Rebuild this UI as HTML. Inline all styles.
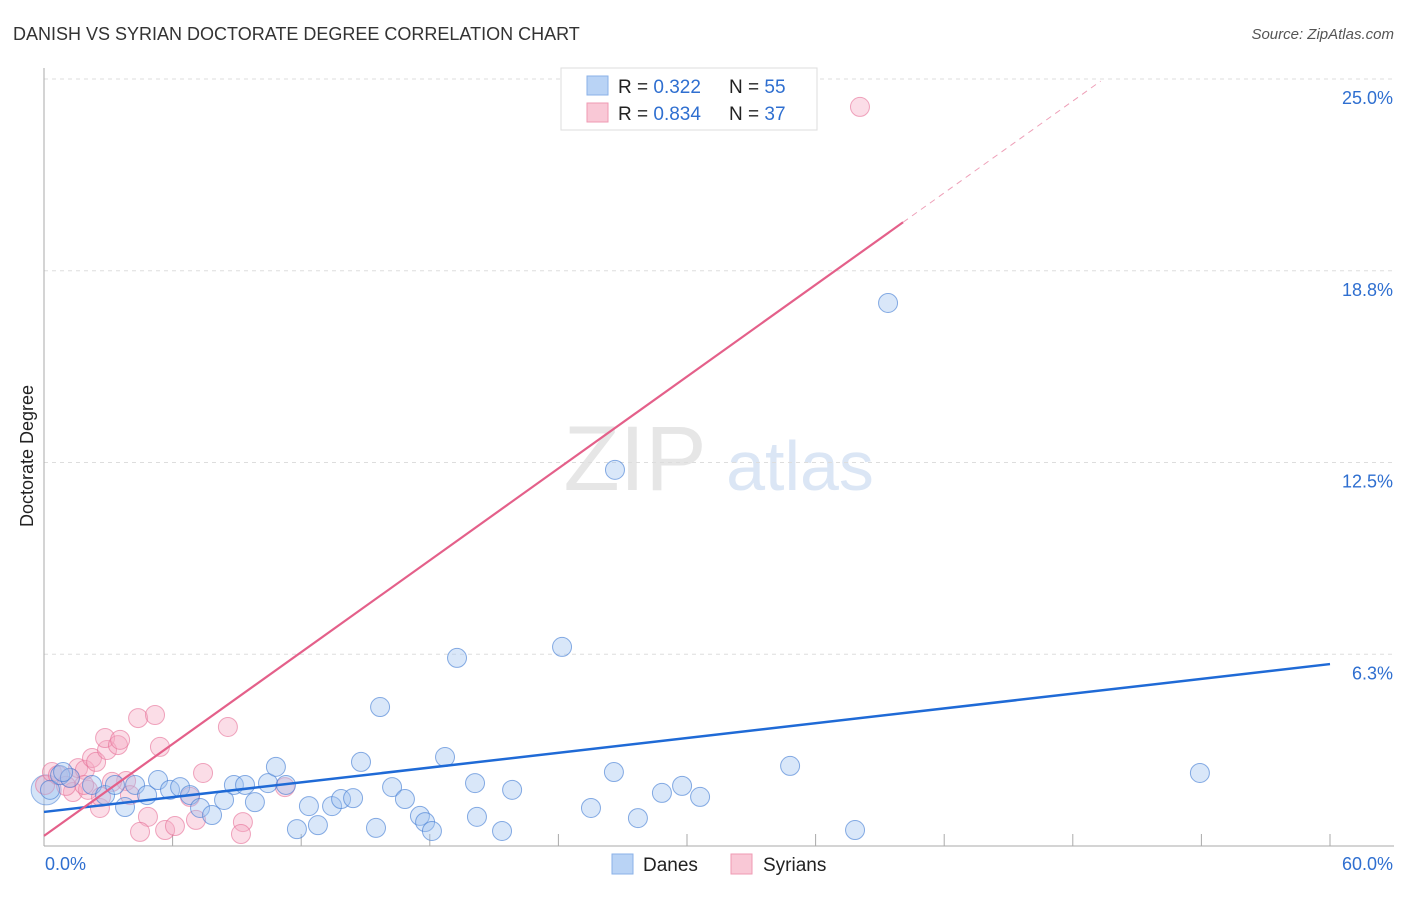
<!DOCTYPE html>
<html><head><meta charset="utf-8"><style>
body{margin:0;background:#fff;font-family:"Liberation Sans",sans-serif}
svg text{font-family:"Liberation Sans",sans-serif}
</style></head><body>
<svg id="chart" width="1406" height="892" viewBox="0 0 1406 892" xmlns="http://www.w3.org/2000/svg">
<text x="13" y="40" font-size="18" fill="#333">DANISH VS SYRIAN DOCTORATE DEGREE CORRELATION CHART</text>
<text x="1394" y="39" font-size="15" fill="#555" text-anchor="end" font-style="italic">Source: ZipAtlas.com</text>
<g>
<text x="635" y="490" font-size="92" fill="#e6e6e6" font-family="Liberation Serif" text-anchor="middle">ZIP</text>
<text x="800" y="490" font-size="70" fill="#dbe6f5" text-anchor="middle">atlas</text>
</g>
<g id="grid"></g>
<g id="axes"></g>
<g id="marks"></g>
<text transform="translate(33,456) rotate(-90)" font-size="18" fill="#222" text-anchor="middle">Doctorate Degree</text>
<g>
<rect x="561" y="68" width="256" height="62" fill="#fff" stroke="#ddd"/>
<rect x="587" y="76" width="21" height="19" fill="#b9d3f5" stroke="#8ab2e8"/>
<rect x="587" y="103" width="21" height="19" fill="#f9c8d6" stroke="#ef9ab3"/>
<text x="618" y="93" font-size="19" fill="#222">R = <tspan fill="#2f6fd0">0.322</tspan><tspan x="729">N = </tspan><tspan fill="#2f6fd0">55</tspan></text>
<text x="618" y="120" font-size="19" fill="#222">R = <tspan fill="#2f6fd0">0.834</tspan><tspan x="729">N = </tspan><tspan fill="#2f6fd0">37</tspan></text>
</g>
<g>
<rect x="612" y="854" width="21" height="20" fill="#b9d3f5" stroke="#8ab2e8"/>
<text x="643" y="871" font-size="19" fill="#222">Danes</text>
<rect x="731" y="854" width="21" height="20" fill="#f9c8d6" stroke="#ef9ab3"/>
<text x="763" y="871" font-size="19" fill="#222">Syrians</text>
</g>
</svg>
<script>
const yTicks=[0,6.25,12.5,18.75,25];
const yTickLabels=["","6.3%","12.5%","18.8%","25.0%"];
const xTickLabels=["0.0%","60.0%"];
const danesX=[0.28,0.75,1.21,2.24,2.85,3.31,3.78,4.25,4.81,5.32,5.88,6.35,6.81,7.28,7.84,8.40,8.86,9.38,9.84,10.45,10.82,11.29,11.80,12.36,12.78,13.44,13.86,14.42,14.79,15.49,15.68,16.24,16.84,17.54,17.78,18.10,18.71,19.27,20.11,20.20,21.37,21.84,24.17,25.52,26.59,26.64,27.71,28.83,29.77,30.61,34.81,37.84,39.38,53.93,0.89];
const danesY=[1.83,2.31,2.22,1.99,1.66,1.99,1.27,1.99,1.66,2.15,1.83,1.92,1.66,1.24,1.01,1.50,1.99,1.99,1.43,2.05,2.58,1.99,0.55,1.30,0.68,1.30,1.53,1.56,2.74,0.59,4.53,1.92,1.53,0.98,0.78,0.49,2.90,6.13,2.05,0.95,0.49,1.83,6.49,1.24,2.41,12.26,0.91,1.73,1.96,1.60,2.61,0.52,17.70,2.38,2.41];
const syrX=[0.05,0.37,0.65,1.21,1.59,1.91,2.24,2.43,2.94,2.85,3.45,3.55,4.39,5.18,5.41,3.83,4.01,2.61,1.35,2.05,4.85,4.48,5.65,6.11,7.09,7.42,8.58,9.28,9.19,11.24,38.07,1.87,1.03,3.17,2.66,6.81];
const syrY=[1.99,2.41,2.31,2.22,2.54,2.48,2.87,2.74,3.13,3.52,3.29,3.46,4.17,4.27,3.23,2.12,1.66,1.24,1.76,1.83,0.95,0.46,0.52,0.65,0.85,2.38,3.88,0.78,0.39,1.92,24.09,1.99,1.96,2.09,1.60,1.60];
const blueTrend=[1.11,5.93]; // y at x=0 and x=60
const pinkTrend=[0.33,0.499]; // intercept, slope
const NS="http://www.w3.org/2000/svg";
const X0=44,X1=1330,Y0=846,Y1=79;
const sx=v=>X0+(v/60)*(X1-X0);
const sy=v=>Y0-(v/25)*(Y0-Y1);
function mk(parent,tag,attrs){const e=document.createElementNS(NS,tag);for(const k in attrs)e.setAttribute(k,attrs[k]);document.getElementById(parent).appendChild(e);return e;}
yTicks.forEach((t,i)=>{
 if(i>0){const l=mk('grid','line',{x1:X0,x2:1394,y1:sy(t),y2:sy(t),stroke:'#ddd','stroke-dasharray':'4,4'});
 
 
 const tx=mk('axes','text',{x:1393,y:sy(t)+25,'font-size':18,fill:'#2f6fd0','text-anchor':'end'});tx.textContent=yTickLabels[i];
 
 }
});
const ax=mk('axes','line',{x1:X0,x2:X0,y1:68,y2:Y0,stroke:'#aaa'});


const bx=mk('axes','line',{x1:X0,x2:1394,y1:Y0,y2:Y0,stroke:'#aaa'});


for(let i=0;i<=10;i++){const t=mk('axes','line',{x1:sx(i*6),x2:sx(i*6),y1:Y0-12,y2:Y0,stroke:'#aaa'});
 
 }
const xl0=mk('axes','text',{x:45,y:870,'font-size':18,fill:'#2f6fd0'});xl0.textContent=xTickLabels[0];


const xl1=mk('axes','text',{x:1393,y:870,'font-size':18,fill:'#2f6fd0','text-anchor':'end'});xl1.textContent=xTickLabels[1];


const big=mk('marks','circle',{cx:sx(0.1),cy:sy(1.83),r:15,fill:'rgba(160,195,240,0.45)',stroke:'rgba(60,120,210,0.5)'});


syrX.forEach((x,i)=>{const c=mk('marks','circle',{cx:sx(x),cy:sy(syrY[i]),r:9.5,fill:'rgba(245,170,195,0.4)',stroke:'rgba(230,110,150,0.6)'});
 
 });
danesX.forEach((x,i)=>{const c=mk('marks','circle',{cx:sx(x),cy:sy(danesY[i]),r:9.5,fill:'rgba(160,195,240,0.4)',stroke:'rgba(60,120,210,0.6)'});
 
 });
const bl=mk('marks','line',{x1:sx(0),y1:sy(blueTrend[0]),x2:sx(60),y2:sy(blueTrend[1]),stroke:'#1f6ad6','stroke-width':2.5});


const pEnd=40.08,pDash=49.3;
const pl=mk('marks','line',{x1:sx(0),y1:sy(pinkTrend[0]),x2:sx(pEnd),y2:sy(pinkTrend[0]+pinkTrend[1]*pEnd),stroke:'#e4608a','stroke-width':2.2});


const pd=mk('marks','line',{x1:sx(pEnd),y1:sy(pinkTrend[0]+pinkTrend[1]*pEnd),x2:sx(pDash),y2:sy(pinkTrend[0]+pinkTrend[1]*pDash),stroke:'#eea0b8','stroke-width':1,'stroke-dasharray':'6,5'});


</script>
</body></html>
